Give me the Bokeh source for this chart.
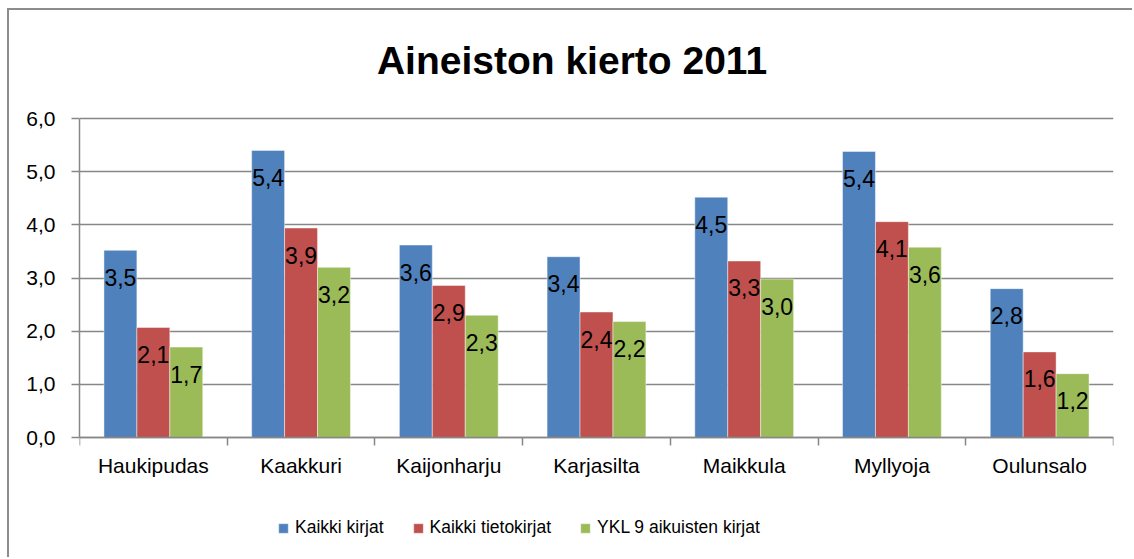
import numpy as np
from bokeh.plotting import figure
from bokeh.models import (ColumnDataSource, FixedTicker, Legend, LegendItem, Label)
from bokeh.core.properties import value
from bokeh.embed import file_html
from bokeh.resources import INLINE

# ---- data ----
title = "Aineiston kierto 2011"
categories = ["Haukipudas", "Kaakkuri", "Kaijonharju", "Karjasilta",
              "Maikkula", "Myllyoja", "Oulunsalo"]
series_names = ["Kaikki kirjat", "Kaikki tietokirjat", "YKL 9 aikuisten kirjat"]
kaikki_kirjat = [3.52, 5.40, 3.62, 3.40, 4.52, 5.38, 2.80]
kaikki_tietokirjat = [2.07, 3.94, 2.86, 2.36, 3.32, 4.06, 1.61]
ykl9_aikuisten = [1.70, 3.20, 2.30, 2.18, 2.98, 3.58, 1.20]
y_ticks = [0, 1, 2, 3, 4, 5, 6]
y_tick_labels = ["0,0", "1,0", "2,0", "3,0", "4,0", "5,0", "6,0"]
colors = ["#4F81BD", "#C0504D", "#9BBB59"]

FONT = "Liberation Sans"
GRID = "#878787"

# layout (canvas pixels)
W, H = 1125, 549
LEFT, RIGHT_PAD = 70, 21
TOP6_Y, ZERO_Y, FRAME_BOTTOM = 108, 427, 540
px_per_unit = (ZERO_Y - TOP6_Y) / 6.0
y_low = -(FRAME_BOTTOM - ZERO_Y) / px_per_unit
y_high = 6 + TOP6_Y / px_per_unit
px_per_cat = (W - LEFT - RIGHT_PAD) / len(categories)
TITLE_CX, TITLE_BASE = 562.5 - LEFT, 50   # canvas px

p = figure(width=W, height=H, x_range=(0, 7), y_range=(y_low, y_high),
           output_backend="svg", toolbar_location=None,
           min_border_left=LEFT, min_border_right=RIGHT_PAD,
           min_border_top=0, min_border_bottom=H - FRAME_BOTTOM)
p.styles = {"border-left": "2px solid #8c8c8c", "border-top": "2px solid #8c8c8c",
            "margin-left": "7px", "margin-top": "8px"}
p.outline_line_color = None
p.background_fill_color = "white"
p.border_fill_color = "white"

# title (inside the frame, above the value axis)
p.add_layout(Label(x=TITLE_CX / px_per_cat, y=(ZERO_Y - TITLE_BASE) / px_per_unit,
                   text=title, text_align="center", text_baseline="alphabetic",
                   text_font=FONT, text_font_size="39px", text_font_style="bold",
                   text_color="black"))

bar_w = 0.223
offsets = [-bar_w, 0.0, bar_w]
series_vals = [kaikki_kirjat, kaikki_tietokirjat, ykl9_aikuisten]
centers = np.arange(len(categories)) + 0.5

items = []
for name, vals, off, col in zip(series_names, series_vals, offsets, colors):
    src = ColumnDataSource(dict(
        x=centers + off,
        top=vals,
        label=[f"{v:.1f}".replace(".", ",") for v in vals],
    ))
    r = p.vbar(x="x", top="top", bottom=0, width=bar_w, source=src, fill_color=col,
               line_color="white", line_alpha=0.45, line_width=1)
    p.text(x="x", y="top", text="label", source=src, text_align="center",
           text_baseline="middle", y_offset=27, text_font=value(FONT),
           text_font_size="23px", text_color="black")
    items.append(LegendItem(label=name, renderers=[r]))

# y axis
p.yaxis.bounds = (0, 6)
p.yaxis.ticker = FixedTicker(ticks=y_ticks)
p.yaxis.major_label_overrides = dict(zip(y_ticks, y_tick_labels))
p.yaxis.major_label_text_font = FONT
p.yaxis.major_label_text_font_size = "21px"
p.yaxis.major_label_text_color = "black"
p.yaxis.major_label_standoff = 16
p.yaxis.axis_line_color = GRID
p.yaxis.axis_line_width = 1.5
p.yaxis.major_tick_line_color = GRID
p.yaxis.major_tick_line_width = 1.5
p.yaxis.major_tick_out = 8
p.yaxis.major_tick_in = 0
p.yaxis.minor_tick_line_color = None

# x axis at y = 0: labels at centers, ticks at boundaries
p.xaxis.fixed_location = 0
p.xaxis.ticker = FixedTicker(ticks=list(centers),
                             minor_ticks=list(range(len(categories) + 1)))
p.xaxis.major_label_overrides = {float(c): n for c, n in zip(centers, categories)}
p.xaxis.major_label_text_font = FONT
p.xaxis.major_label_text_font_size = "21px"
p.xaxis.major_label_text_color = "black"
p.xaxis.major_label_standoff = 8
p.xaxis.major_tick_line_color = None
p.xaxis.minor_tick_line_color = GRID
p.xaxis.minor_tick_line_width = 1.5
p.xaxis.minor_tick_out = 8
p.xaxis.minor_tick_in = 0
p.xaxis.axis_line_color = GRID
p.xaxis.axis_line_width = 1.5

p.xgrid.grid_line_color = None
p.ygrid.grid_line_color = GRID
p.ygrid.grid_line_width = 1.5

legend = Legend(items=items, orientation="horizontal", location=(198, 12),
                glyph_width=12, glyph_height=12, label_standoff=6, spacing=28,
                padding=0, margin=0, border_line_color=None,
                background_fill_alpha=0,
                label_text_font=FONT,
                label_text_font_size="17.5px", label_text_color="black")
p.add_layout(legend, "center")

open("out.html", "w").write(file_html(p, INLINE))
